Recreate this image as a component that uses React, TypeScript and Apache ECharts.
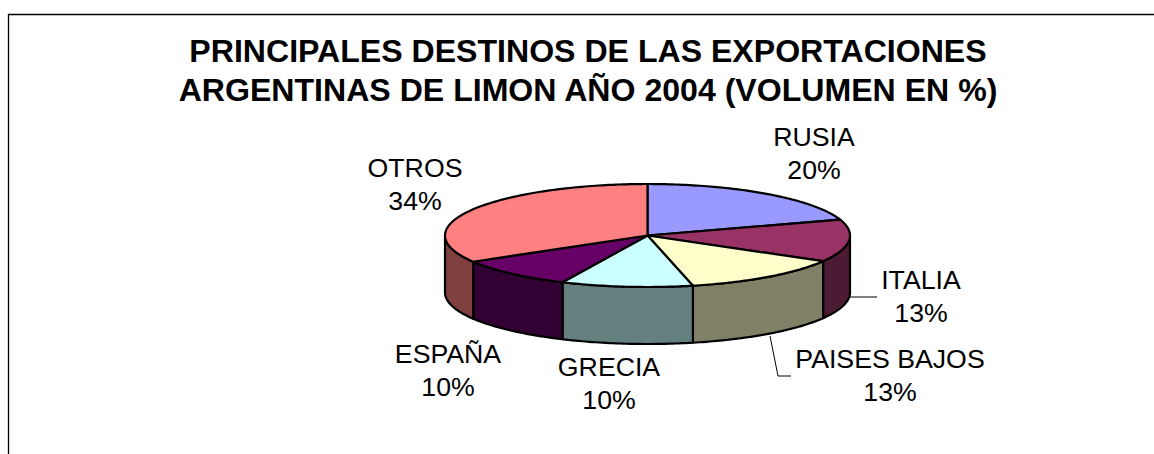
import React, { useEffect, useRef } from "react";
import * as echarts from "echarts";

const titleLines = ["PRINCIPALES DESTINOS DE LAS EXPORTACIONES", "ARGENTINAS DE LIMON AÑO 2004 (VOLUMEN EN %)"];
const categories = ["RUSIA", "ITALIA", "PAISES BAJOS", "GRECIA", "ESPAÑA", "OTROS"];
const shares = [20.0, 13.3, 13.1, 10.49, 9.61, 33.5];
const topColors = ["#9999FF", "#993366", "#FFFFCC", "#CCFFFF", "#660066", "#FF8080"];
const sideColors = ["#4D4D80", "#4D1A33", "#808066", "#668080", "#330033", "#804040"];

const CX = 647.5, CY = 235.5, RX = 202.5, RY = 51.5, DEPTH = 57;
const labelCenters = [[814, 153], [921, 296], [890, 375], [609, 383], [448, 370], [415, 184]];
const LABEL_FONT = "26.7px 'Liberation Sans', Arial, sans-serif";

const total = shares.reduce((a, b) => a + b, 0);
const startOf = (i: number) => shares.slice(0, i).reduce((a, b) => a + b, 0);
const angle = (share: number) => (share / total) * Math.PI * 2;
const pt = (t: number, dy = 0) => [CX + RX * Math.sin(t), CY - RY * Math.cos(t) + dy];
const arc = (a: number, b: number, dy = 0) => {
  const n = Math.max(2, Math.ceil((Math.abs(b - a) * 180) / Math.PI));
  const out: number[][] = [];
  for (let k = 0; k <= n; k++) out.push(pt(a + ((b - a) * k) / n, dy));
  return out;
};

const edge = { stroke: "#000", lineWidth: 2.2, lineJoin: "round" as const };

export default function App() {
  const ref = useRef<HTMLDivElement>(null);
  useEffect(() => {
    const chart = echarts.init(ref.current!, undefined, { renderer: "svg" });
    const rows = categories.map((c, i) => [i, startOf(i), shares[i]]);
    chart.setOption({
      animation: false,
      backgroundColor: "#fff",
      graphic: {
        elements: [
          { type: "polyline", silent: true, shape: { points: [[8.5, 470], [8.5, 14.5], [1170, 14.5]] }, style: { fill: "none", stroke: "#000", lineWidth: 1.3 } },
          ...titleLines.map((t, i) => ({
            type: "text", silent: true, x: 588, y: 51 + i * 38.5,
            style: { text: t, fill: "#000", font: "bold 32.1px 'Liberation Sans', Arial, sans-serif", align: "center", verticalAlign: "middle" },
          })),
          { type: "polyline", silent: true, shape: { points: [[850, 297], [877, 297]] }, style: { stroke: "#000", lineWidth: 1, fill: "none" } },
          { type: "polyline", silent: true, shape: { points: [[770, 336], [778, 376], [791, 376]] }, style: { stroke: "#000", lineWidth: 1, fill: "none" } },
        ],
      },
      series: [
        {
          type: "custom", coordinateSystem: "none", data: rows, silent: true, z: 2,
          renderItem: (_p: any, api: any) => {
            const i = api.value(0);
            const a = angle(api.value(1));
            const b = a + angle(api.value(2));
            const lo = Math.max(a, Math.PI / 2), hi = Math.min(b, Math.PI * 1.5);
            if (hi <= lo) return { type: "group", children: [] };
            return {
              type: "polygon",
              shape: { points: [...arc(lo, hi), ...arc(hi, lo, DEPTH)] },
              style: { fill: sideColors[i], ...edge },
            };
          },
        },
        {
          type: "custom", coordinateSystem: "none", data: rows, silent: true, z: 3,
          renderItem: (_p: any, api: any) => {
            const i = api.value(0);
            const a = angle(api.value(1));
            const b = a + angle(api.value(2));
            return {
              type: "polygon",
              shape: { points: [[CX, CY], ...arc(a, b)] },
              style: { fill: topColors[i], ...edge },
            };
          },
        },
        {
          type: "custom", coordinateSystem: "none", data: rows, silent: true, z: 4,
          renderItem: (_p: any, api: any) => {
            const i = api.value(0);
            return {
              type: "text",
              x: labelCenters[i][0], y: labelCenters[i][1],
              style: {
                text: `${categories[i]}\n${Math.round(api.value(2))}%`,
                font: LABEL_FONT, fill: "#000", align: "center", verticalAlign: "middle", lineHeight: 33,
              },
            };
          },
        },
      ],
    });
    return () => chart.dispose();
  }, []);
  return <div ref={ref} style={{ position: "fixed", left: 0, top: 0, width: 1154, height: 454 }} />;
}
